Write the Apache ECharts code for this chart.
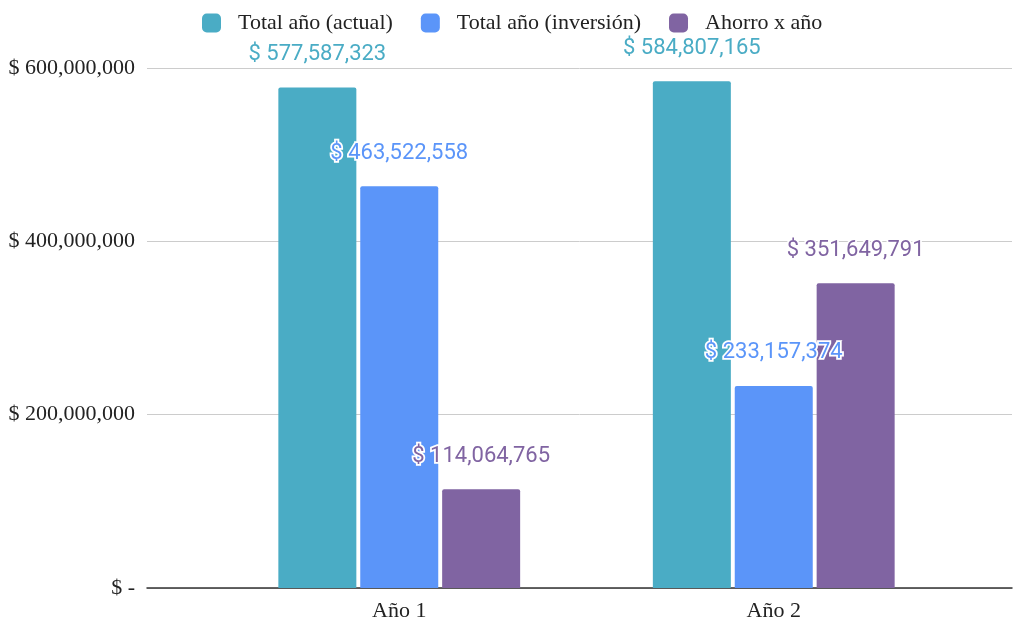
<!DOCTYPE html>
<html>
<head>
<meta charset="utf-8">
<script src="https://cdn.jsdelivr.net/npm/echarts@6/dist/echarts.min.js"></script>
<style>html,body{margin:0;padding:0;background:#fff;}#c{width:1015px;height:618px;}</style>
</head>
<body>
<div id="c"></div>
<script>
const categories = ['Año 1', 'Año 2'];
const seriesNames = ['Total año (actual)', 'Total año (inversión)', 'Ahorro x año'];
const totalActual = [577587323, 584807165];
const totalInversion = [463522558, 233157374];
const ahorro = [114064765, 351649791];
const yTickValues = [0, 200000000, 400000000, 600000000];
const yTickLabels = ['$ -', '$ 200,000,000', '$ 400,000,000', '$ 600,000,000'];
const colors = ['#4aacc5', '#5b95f9', '#8064a2'];

const serif = '"Liberation Serif", "Times New Roman", serif';
const fmt = v => '$ ' + v.toLocaleString('en-US');

const chart = echarts.init(document.getElementById('c'), null, {renderer: 'canvas'});
const mkSeries = (name, data, i) => ({
  name: name, type: 'bar', data: data, xAxisIndex: 1, yAxisIndex: 1,
  barWidth: 78, barGap: '5%',
  itemStyle: {color: colors[i], borderRadius: [2, 2, 0, 0]},
  label: {
    show: true, position: 'top', distance: 22,
    formatter: p => fmt(p.value),
    color: colors[i], fontFamily: 'Roboto', fontSize: 22,
    textBorderColor: '#fff', textBorderWidth: 3.5
  }
});
chart.setOption({
  animation: false,
  color: colors,
  legend: {
    top: 7, left: 197, itemWidth: 19, itemHeight: 19, itemGap: 28,
    icon: 'roundRect',
    textStyle: {fontFamily: serif, fontSize: 22, color: '#222', padding: [0, 0, 0, 12]},
    data: seriesNames
  },
  grid: [
    {left: 147, right: 3, top: 68, bottom: 30, outerBoundsMode: 'none'},
    {left: 212, right: 54, top: 68, bottom: 30, outerBoundsMode: 'none'}
  ],
  xAxis: [
    {type: 'category', gridIndex: 0, data: [''], axisTick: {show: false},
     axisLabel: {show: false}, axisLine: {show: true, lineStyle: {color: '#333', width: 1.5}}},
    {type: 'category', gridIndex: 1, data: categories, axisTick: {show: false},
     axisLine: {show: false},
     axisLabel: {fontFamily: serif, fontSize: 22, color: '#222', margin: 12}}
  ],
  yAxis: [
    {type: 'value', gridIndex: 0, min: 0, max: 600000000, interval: 200000000,
     axisLine: {show: false}, axisTick: {show: false},
     splitLine: {lineStyle: {color: '#cccccc'}},
     axisLabel: {fontFamily: serif, fontSize: 22, color: '#222', margin: 12,
       formatter: v => yTickLabels[yTickValues.indexOf(v)]}},
    {type: 'value', gridIndex: 1, min: 0, max: 600000000, interval: 200000000,
     show: false, splitLine: {show: false}}
  ],
  series: [
    mkSeries(seriesNames[0], totalActual, 0),
    mkSeries(seriesNames[1], totalInversion, 1),
    mkSeries(seriesNames[2], ahorro, 2)
  ]
});
</script>
</body>
</html>
